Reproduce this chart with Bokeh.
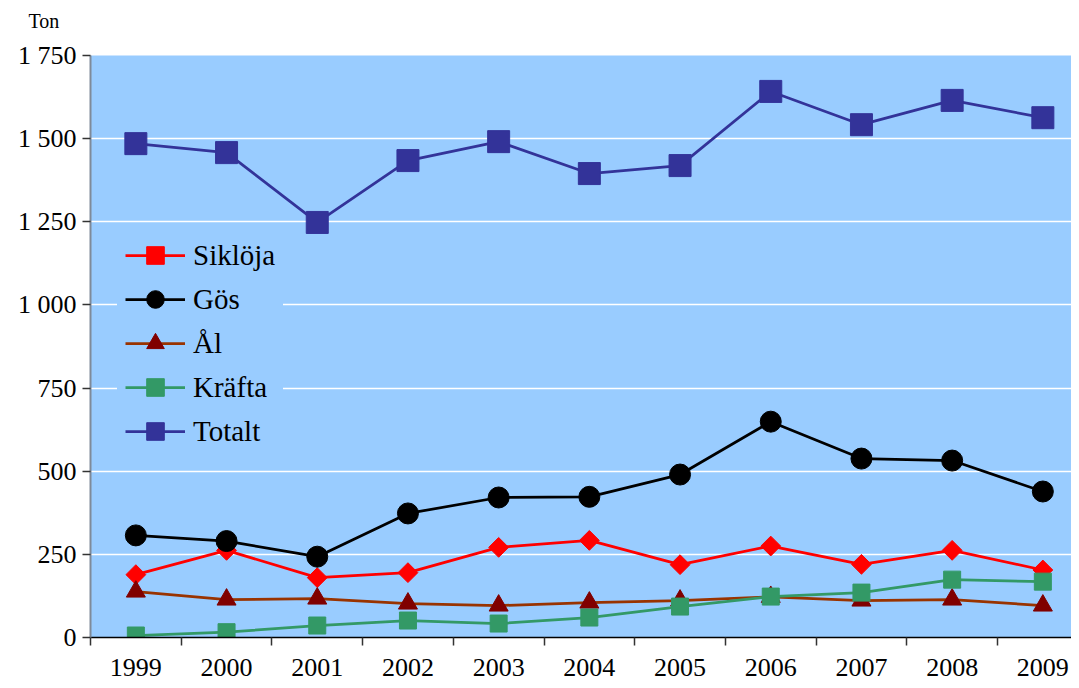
from bokeh.plotting import figure
from bokeh.models import FixedTicker, Range1d, Legend, Title
from bokeh.embed import file_html
from bokeh.resources import INLINE

years = [1999, 2000, 2001, 2002, 2003, 2004, 2005, 2006, 2007, 2008, 2009]
sikloja = [189, 262, 180, 195, 271, 292, 219, 275, 220, 262, 203]
gos = [307, 290, 243, 373, 421, 423, 490, 649, 538, 532, 439]
al = [138, 114, 117, 102, 96, 105, 111, 122, 111, 114, 96]
krafta = [6, 16, 36, 51, 42, 60, 93, 123, 135, 174, 168]
totalt = [1485, 1458, 1248, 1434, 1491, 1395, 1419, 1642, 1542, 1615, 1563]
y_ticks = [0, 250, 500, 750, 1000, 1250, 1500, 1750]
y_tick_labels = ["0", "250", "500", "750", "1 000", "1 250", "1 500", "1 750"]
x_tick_labels = [str(y) for y in years]

FONT = "Liberation Serif"
W, H = 1071, 680
LEFT, TOP, BOTTOM = 90, 55, 637

p = figure(width=W, height=H, output_backend="svg", toolbar_location=None, title=None,
           x_range=Range1d(1998.5, 1998.5 + (W - LEFT) / 90.7), y_range=Range1d(0, 1750),
           min_border_left=LEFT, min_border_top=TOP, min_border_bottom=H - BOTTOM,
           min_border_right=0)
p.background_fill_color = "#99CCFF"
p.border_fill_color = "white"
p.outline_line_color = None

# spacer panel next to the frame, then the unit label above it
p.add_layout(Title(text=" ", text_font_size="2px", standoff=20), "above")
p.add_layout(Title(text="Ton", text_font=FONT, text_font_size="20px", text_font_style="normal",
                   text_color="black", align="left", offset=-62, standoff=0), "above")

# grid
p.xgrid.visible = False
p.ygrid.ticker = FixedTicker(ticks=y_ticks)
p.ygrid.grid_line_color = "white"
p.ygrid.grid_line_width = 1.5

# y axis
p.yaxis.ticker = FixedTicker(ticks=y_ticks)
p.yaxis.major_label_overrides = {t: l for t, l in zip(y_ticks, y_tick_labels)}
p.yaxis.major_label_text_font = FONT
p.yaxis.major_label_text_font_size = "26px"
p.yaxis.major_label_text_color = "black"
p.yaxis.axis_line_color = "#7f8a99"
p.yaxis.axis_line_width = 2
p.yaxis.major_tick_in = 0
p.yaxis.major_tick_out = 8
p.yaxis.major_tick_line_color = "#333333"
p.yaxis.major_tick_line_width = 1.5
p.yaxis.minor_tick_line_color = None
p.yaxis.major_label_standoff = 6

# x axis
bounds = [y - 0.5 for y in years] + [years[-1] + 0.5]
p.xaxis.ticker = FixedTicker(ticks=years, minor_ticks=bounds)
p.xaxis.major_label_overrides = {y: l for y, l in zip(years, x_tick_labels)}
p.xaxis.major_label_text_font = FONT
p.xaxis.major_label_text_font_size = "26px"
p.xaxis.major_label_text_color = "black"
p.xaxis.axis_line_color = "black"
p.xaxis.axis_line_width = 1.5
p.xaxis.major_tick_in = 0
p.xaxis.major_tick_out = 0
p.xaxis.minor_tick_in = 0
p.xaxis.minor_tick_out = 8
p.xaxis.minor_tick_line_color = "#333333"
p.xaxis.minor_tick_line_width = 1.5
p.xaxis.major_label_standoff = 13

LW = 2.75
items = []
r1 = p.line(years, sikloja, line_color="#FF0000", line_width=LW)
r2 = p.scatter(years, sikloja, marker="square", angle=0.785398, size=14,
               fill_color="#FF0000", line_color="#FF0000")
items.append(("Siklöja", [r1, r2]))

r1 = p.line(years, gos, line_color="black", line_width=LW)
r2 = p.scatter(years, gos, marker="circle", size=21, fill_color="black", line_color="black")
items.append(("Gös", [r1, r2]))

r1 = p.line(years, al, line_color="#993300", line_width=LW)
r2 = p.scatter(years, al, marker="triangle", size=19, fill_color="#800000", line_color="#800000")
items.append(("Ål", [r1, r2]))

r1 = p.line(years, krafta, line_color="#339966", line_width=LW)
r2 = p.scatter(years, krafta, marker="square", size=17, fill_color="#339966", line_color="#339966")
items.append(("Kräfta", [r1, r2]))

r1 = p.line(years, totalt, line_color="#333399", line_width=LW)
r2 = p.scatter(years, totalt, marker="square", size=22, fill_color="#333399", line_color="#333399")
items.append(("Totalt", [r1, r2]))

legend = Legend(items=items, location=(27, 176), padding=8, margin=0, spacing=0,
                glyph_width=60, glyph_height=44, label_standoff=8, label_height=30,
                label_text_font=FONT, label_text_font_size="29px", label_text_color="black",
                border_line_alpha=0, background_fill_color="#99CCFF", background_fill_alpha=1)
p.add_layout(legend, "center")

open("out.html", "w").write(file_html(p, INLINE))
